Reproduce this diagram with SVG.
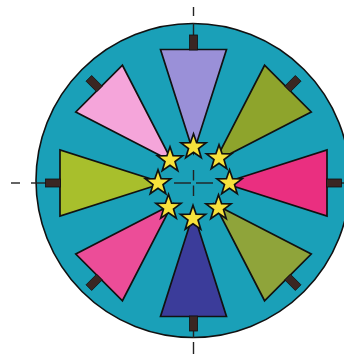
<svg xmlns="http://www.w3.org/2000/svg" xmlns:xlink="http://www.w3.org/1999/xlink" width="344" height="354" viewBox="0 0 344 354">
<style>
.wedge{stroke:#111;stroke-width:1.7;stroke-linejoin:miter}
.tick{fill:#3a2622;stroke:#111;stroke-width:0.8}
.cross{stroke:#222;stroke-width:1.4;fill:none}
.star{fill:#f7e23c;stroke:#111;stroke-width:1.7;stroke-linejoin:miter}
</style>
<defs>
<polygon id="star" points="0,-13.2 3.1,-4.27 12.55,-4.08 5.03,1.63 7.76,10.68 0,5.28 -7.76,10.68 -5.03,1.63 -12.55,-4.08 -3.1,-4.27"/>
<polygon id="tri" points="0,-30 -33,-133.5 33,-133.5"/>
<rect id="tk" x="-4" y="-148" width="8" height="15"/>
</defs>
<rect width="344" height="354" fill="#ffffff"/>
<g id="disc">
<circle cx="193" cy="180.5" r="157" fill="#1aa0b8" stroke="#111" stroke-width="1.6"/>
</g>
<g id="connectors">
<line class="cross" x1="193.5" y1="7" x2="193.5" y2="16"/>
<line class="cross" x1="193.5" y1="23" x2="193.5" y2="40"/>
<line class="cross" x1="193.5" y1="170" x2="193.5" y2="180.5"/>
<line class="cross" x1="193.5" y1="185.5" x2="193.5" y2="196"/>
<line class="cross" x1="193.5" y1="326" x2="193.5" y2="338"/>
<line class="cross" x1="193.5" y1="342" x2="193.5" y2="354"/>
<line class="cross" x1="11" y1="183" x2="20" y2="183"/>
<line class="cross" x1="31" y1="183" x2="50" y2="183"/>
<line class="cross" x1="174" y1="183" x2="191" y2="183"/>
<line class="cross" x1="196" y1="183" x2="213" y2="183"/>
<line class="cross" x1="330" y1="183" x2="344" y2="183"/>
</g>
<g id="wedge-top" transform="translate(193.5,183) rotate(0)"><use xlink:href="#tri" class="wedge" fill="#9a90d8"/><use xlink:href="#tk" class="tick"/></g>
<g id="wedge-upper-right" transform="translate(193.5,183) rotate(45)"><use xlink:href="#tri" class="wedge" fill="#8ea42c"/><use xlink:href="#tk" class="tick"/></g>
<g id="wedge-right" transform="translate(193.5,183) rotate(90)"><use xlink:href="#tri" class="wedge" fill="#ea2f80"/><use xlink:href="#tk" class="tick"/></g>
<g id="wedge-lower-right" transform="translate(193.5,183) rotate(135)"><use xlink:href="#tri" class="wedge" fill="#8fa43a"/><use xlink:href="#tk" class="tick"/></g>
<g id="wedge-bottom" transform="translate(193.5,183) rotate(180)"><use xlink:href="#tri" class="wedge" fill="#3b3c9a"/><use xlink:href="#tk" class="tick"/></g>
<g id="wedge-lower-left" transform="translate(193.5,183) rotate(225)"><use xlink:href="#tri" class="wedge" fill="#ec4d98"/><use xlink:href="#tk" class="tick"/></g>
<g id="wedge-left" transform="translate(193.5,183) rotate(270)"><use xlink:href="#tri" class="wedge" fill="#a8bf2c"/><use xlink:href="#tk" class="tick"/></g>
<g id="wedge-upper-left" transform="translate(193.5,183) rotate(315)"><use xlink:href="#tri" class="wedge" fill="#f5a5da"/><use xlink:href="#tk" class="tick"/></g>
<g id="stars">
<use xlink:href="#star" class="star" x="193.5" y="147"/>
<use xlink:href="#star" class="star" x="219" y="158"/>
<use xlink:href="#star" class="star" x="229.5" y="183"/>
<use xlink:href="#star" class="star" x="218.5" y="208"/>
<use xlink:href="#star" class="star" x="193" y="218.5"/>
<use xlink:href="#star" class="star" x="168.5" y="207.5"/>
<use xlink:href="#star" class="star" x="158" y="183"/>
<use xlink:href="#star" class="star" x="170" y="160"/>
</g>
</svg>
